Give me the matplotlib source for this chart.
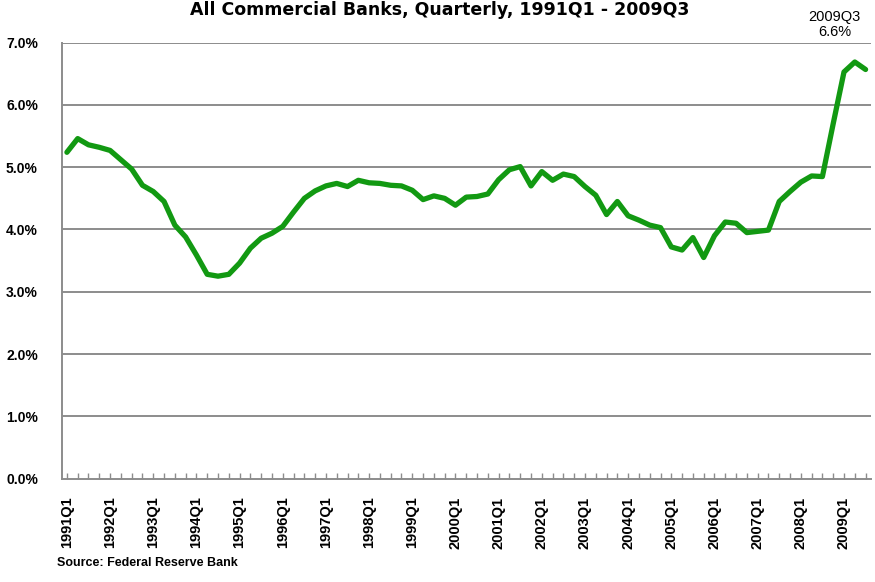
import matplotlib
matplotlib.use("Agg")
import matplotlib.pyplot as plt
import numpy as np

years = list(range(1991, 2010))
quarters = [f"{y}Q{q}" for y in years for q in range(1, 5)][:75]

rates = [
    5.24, 5.46, 5.36, 5.32, 5.27, 5.12, 4.97, 4.71, 4.61, 4.45,
    4.07, 3.88, 3.59, 3.28, 3.25, 3.28, 3.46, 3.70, 3.86, 3.94,
    4.05, 4.28, 4.50, 4.62, 4.70, 4.74, 4.69, 4.79, 4.75, 4.74,
    4.71, 4.70, 4.63, 4.48, 4.54, 4.50, 4.39, 4.52, 4.53, 4.57,
    4.80, 4.96, 5.01, 4.70, 4.93, 4.79, 4.89, 4.85, 4.69, 4.55,
    4.24, 4.45, 4.22, 4.15, 4.07, 4.03, 3.72, 3.67, 3.87, 3.55,
    3.90, 4.12, 4.10, 3.95, 3.97, 3.99, 4.45, 4.61, 4.76, 4.86,
    4.85, 5.70, 6.53, 6.69, 6.57,
]

y_ticks = [0, 1, 2, 3, 4, 5, 6, 7]
y_labels = [f"{v:.1f}%" for v in y_ticks]
title = "All Commercial Banks, Quarterly, 1991Q1 - 2009Q3"
annot = "2009Q3\n6.6%"
source = "Source: Federal Reserve Bank"

fig = plt.figure(figsize=(8.75, 5.82), dpi=100)
ax = fig.add_axes([0.0703, 0.1778, 0.9251, 0.7488])

x = np.arange(len(rates))
ax.plot(x, rates, color="#129912", linewidth=3.8, solid_joinstyle="round",
        solid_capstyle="round", zorder=3)

grid_c = "#8c8c8c"
ax.set_ylim(0, 7)
ax.set_xlim(-0.5, len(rates) - 0.5)
ax.set_yticks(y_ticks)
ax.set_yticklabels(y_labels, fontsize=10, fontweight="bold",
                   family=["Liberation Sans", "DejaVu Sans"])
for v in y_ticks[1:]:
    ax.axhline(v, color=grid_c, linewidth=1.4, zorder=1)

major = x[::4]
ax.set_xticks(major)
ax.set_xticklabels([quarters[i] for i in major], rotation=90, fontsize=10.5,
                   fontweight="bold", family=["Liberation Sans", "DejaVu Sans"],
                   va="top", ha="center")
ax.set_xticks(x, minor=True)
ax.tick_params(axis="x", which="both", direction="in", length=4, width=1,
               color=grid_c, pad=13)
ax.tick_params(axis="y", length=0, pad=17)

for s in ["top", "right"]:
    ax.spines[s].set_visible(False)
for s in ["left", "bottom"]:
    ax.spines[s].set_color(grid_c)
    ax.spines[s].set_linewidth(1.4)

fig.text(0.503, 0.998, title, ha="center", va="top", fontsize=12.5,
         fontweight="bold", family=["DejaVu Sans"])
fig.text(0.954, 0.958, annot, ha="center", va="center", fontsize=10.5,
         family=["Liberation Sans", "DejaVu Sans"], linespacing=1.15)
fig.text(0.065, 0.033, source, ha="left", va="center", fontsize=9,
         fontweight="bold", family=["Liberation Sans", "DejaVu Sans"])

fig.savefig("out.png", dpi=100)
